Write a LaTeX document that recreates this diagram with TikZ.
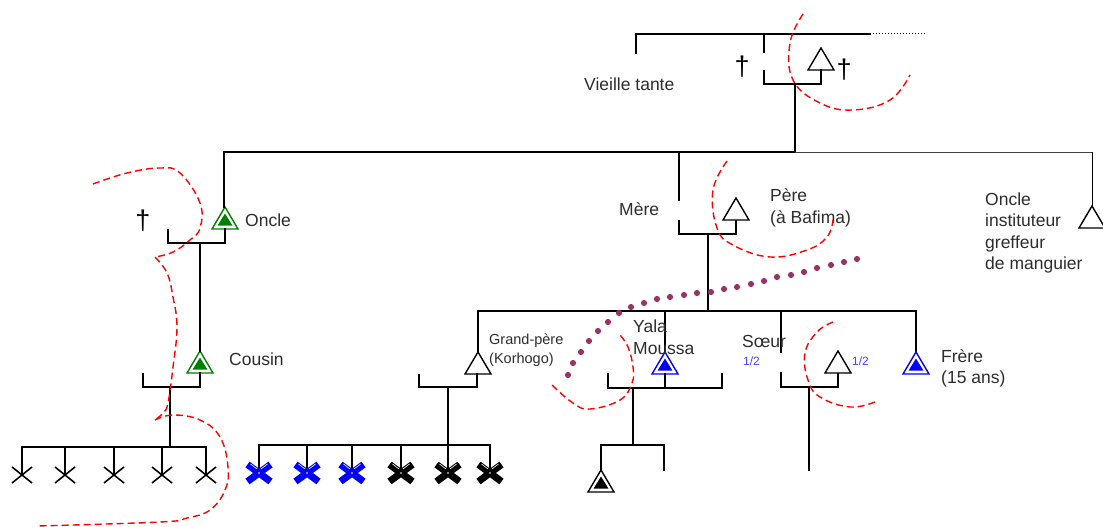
\documentclass[tikz,border=0pt]{standalone}
\usepackage{fontspec}
\setmainfont{Liberation Sans}
\definecolor{kgreen}{RGB}{0,128,0}
\definecolor{kblue}{RGB}{0,0,255}
\definecolor{kpurple}{RGB}{153,51,102}
\definecolor{ktext}{RGB}{45,45,45}
\definecolor{khalf}{RGB}{70,70,255}
\begin{document}
\begin{tikzpicture}[x=1pt,y=-1pt,
  lin/.style={line width=1.5pt, black, line cap=rect},
  thinlin/.style={line width=1pt, black!75},
  reddash/.style={red, line width=1.4pt, dash pattern=on 7pt off 4pt},
  lbl/.style={font=\fontsize{17.5}{20}\selectfont, text=ktext, inner sep=0, anchor=base west},
  slbl/.style={font=\fontsize{14.5}{18}\selectfont, text=ktext, inner sep=0, anchor=base west},
  half/.style={font=\fontsize{12}{14}\selectfont, text=khalf, inner sep=0, anchor=base west},
  dagger/.style={font=\fontsize{27}{27}\selectfont, inner sep=0},
  tri/.pic={\draw[line width=1.4pt, fill=white] (0,0) -- (-13,22) -- (13,22) -- cycle;},
  dtri/.pic={\draw[line width=1.4pt, draw=#1, fill=white] (0,0) -- (-13,22) -- (13,22) -- cycle;
             \fill[#1] (0,6.5) -- (-7.5,18.7) -- (7.5,18.7) -- cycle;},
  xcross/.pic={\draw[line width=1.6pt] (-10,-8) -- (10,8) (-10,8) -- (10,-8);},
  bcross/.pic={\draw[#1, line width=7pt] (-11.5,-8.5) -- (11.5,8.5) (-11.5,8.5) -- (11.5,-8.5);
               \draw[white, line width=0.6pt] (-2,-4) -- (-8.5,-9) (2,-4) -- (8.5,-9);
               \fill[white] (0,0) circle (0.9);}
]
\useasboundingbox (0,0) rectangle (1103,527);
\fill[white] (0,0) rectangle (1103,527);

% ---------- top generation ----------
\coordinate (tl) at (636,34);
\coordinate (tr) at (870,34);
\coordinate (tdot) at (927,34);
\draw[lin] (636,53) -- (tl) -- (tr);
\draw[line width=1pt, dotted] (tr) -- (tdot);
\draw[lin] (764,34) -- (764,52);
\pic (grandoncle) at (821,48) {tri};
\coordinate (gob) at (821,70);
\coordinate (gmj) at (795,84);
\draw[lin] (764,71) -- (764,84) -- (821,84) -- (gob);
\node[dagger] (d1) at (742,67) {†};
\node[dagger] (d2) at (844,70) {†};
\node[lbl] (vt) at (584,90) {Vieille tante};

% main horizontal
\coordinate (hL) at (224,152);
\coordinate (hM) at (795,152);
\coordinate (hR) at (1092,152);
\draw[lin] (gmj) -- (hM);
\draw[lin] (hL) -- (hM);
\draw[thinlin] (hM) -- (hR);

% ---------- left branch ----------
\pic (oncle) at (225,207) {dtri=kgreen};
\draw[lin] (hL) -- (224,207);
\draw[lin] (225,229) -- (225,243) -- (168,243) -- (168,230);
\node[dagger] (d3) at (143,221) {†};
\node[lbl] (oncleL) at (245,226) {Oncle};
\pic (cousin) at (200,351) {dtri=kgreen};
\draw[lin] (200,243) -- (200,351);
\node[lbl] (cousinL) at (229,365) {Cousin};
\draw[lin] (200,373) -- (200,387) -- (143,387) -- (143,374);
\draw[lin] (170,387) -- (170,447);
\draw[lin] (22,447) -- (206,447);
\foreach \i/\x in {1/22,2/65,3/114,4/162,5/206}{
  \draw[lin] (\x,447) -- (\x,475);
  \pic (cx\i) at (\x,475) {xcross};
}

% ---------- middle ----------
\draw[lin] (679,152) -- (679,200);
\draw[lin] (679,221) -- (679,234) -- (736,234) -- (736,220);
\pic (pere) at (736,198) {tri};
\node[lbl] (mereL) at (619,215) {Mère};
\node[lbl] (pereL1) at (770,201) {Père};
\node[lbl] (pereL2) at (770,223) {(à Bafima)};
\draw[lin] (708,234) -- (708,311);
\draw[lin] (478,311) -- (916,311);

% grand-pere
\draw[lin] (478,311) -- (478,352);
\pic (gp) at (478,352) {tri};
\node[slbl] (gpL1) at (489,344) {Grand-père};
\node[slbl] (gpL2) at (489,363) {(Korhogo)};
\draw[lin] (477,374) -- (477,387) -- (419,387) -- (419,375);
\draw[lin] (448,387) -- (448,445);
\draw[lin] (259,445) -- (490,445);
\foreach \i/\x/\c in {1/259/kblue,2/307/kblue,3/352/kblue,4/401/black,5/448/black,6/490/black}{
  \draw[lin] (\x,445) -- (\x,470);
  \pic (bx\i) at (\x,473) {bcross=\c};
}

% Yala Moussa
\draw[lin] (665,311) -- (665,352);
\pic (ego) at (665,352) {dtri=kblue};
\node[lbl] (egoL1) at (633,332) {Yala};
\node[lbl] (egoL2) at (633,354) {Moussa};
\draw[lin] (665,374) -- (665,388);
\draw[lin] (608,374) -- (608,388) -- (722,388) -- (722,374);
\draw[lin] (633,388) -- (633,445);
\draw[lin] (601,470) -- (601,445) -- (664,445) -- (664,470);
\pic (fils) at (601,470) {dtri=black};

% Soeur and half-brother
\draw[lin] (781,311) -- (781,352);
\node[lbl] (soeurL) at (742,347) {Sœur};
\node[half] (h1) at (743,365) {1/2};
\draw[lin] (781,373) -- (781,387) -- (838,387) -- (838,372);
\pic (demif) at (838,351) {tri};
\node[half] (h2) at (852,365) {1/2};
\draw[lin] (809,387) -- (809,470);

% Frere
\draw[lin] (916,311) -- (916,352);
\pic (frere) at (916,352) {dtri=kblue};
\node[lbl] (frL1) at (941,362) {Frère};
\node[lbl] (frL2) at (941,383) {(15 ans)};

% Oncle instituteur
\draw[thinlin, black] (hR) -- (1092,206);
\pic (oi) at (1092,206) {tri};
\node[lbl] (oi1) at (985,205) {Oncle};
\node[lbl] (oi2) at (985,226) {instituteur};
\node[lbl] (oi3) at (985,248) {greffeur};
\node[lbl] (oi4) at (985,269) {de manguier};

% ---------- red dashed boundaries ----------
\draw[reddash] plot[smooth, tension=0.7] coordinates {(803,14) (790,43) (793,80) (820,103) (853,110) (890,100) (910,75)};
\draw[reddash] plot[smooth, tension=0.7] coordinates {(93,184) (127,173) (160,168) (180,173) (200,203) (200,228) (190,240) (173,252) (155,257)};
\draw[reddash] plot[smooth, tension=0.7] coordinates {(155,257) (167,273) (173,297) (177,327) (173,367) (168,403) (163,413) (155,420)};
\draw[reddash] plot[smooth, tension=0.7] coordinates {(155,420) (173,415) (200,420) (220,437) (228,467) (225,490) (210,510) (187,518) (160,522) (37,526)};
\draw[reddash] plot[smooth, tension=0.7] coordinates {(727,161) (713,190) (717,228) (733,245) (770,257) (807,250) (827,237) (833,220)};
\draw[reddash] plot[smooth, tension=0.7] coordinates {(552,385) (573,403) (590,409) (620,400) (632,383) (633,367) (628,347) (620,335)};
\draw[reddash] plot[smooth, tension=0.7] coordinates {(833,322) (817,332) (805,353) (808,380) (820,397) (850,407) (875,402)};

% ---------- purple dotted line ----------
\foreach \p in {(568,375),(573,363),(581,352),(589,341),(598,331),(608,322),(619,313),(631,307),(644,303),(657,299),(670,297),(684,295),(697,293),(711,292),(724,289),(737,287),(751,284),(764,281),(777,277),(791,275),(804,272),(817,268),(831,265),(844,262),(857,259)}{
  \fill[kpurple] \p circle (3.1);
}
\end{tikzpicture}
\end{document}
